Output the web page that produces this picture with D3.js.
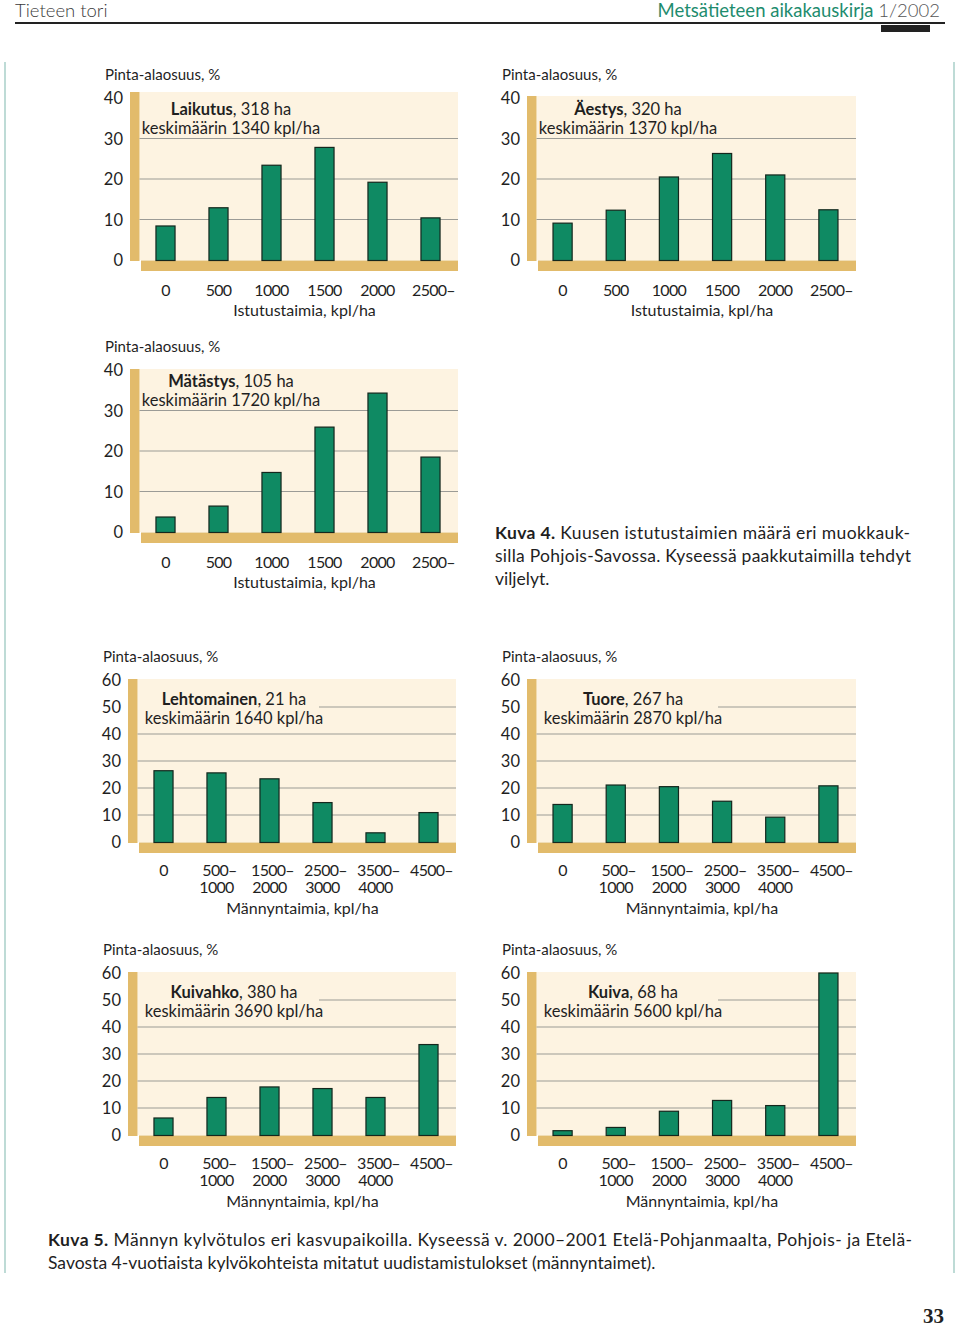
<!DOCTYPE html>
<html><head><meta charset="utf-8">
<script src="https://cdn.jsdelivr.net/npm/d3@7"></script>
<style>
html,body{margin:0;padding:0;background:#fff;}
svg{display:block;}
</style></head>
<body>
<svg id="page" width="960" height="1329"></svg>
<script>
// ---------- DATA ----------
const istutusCategories = ["0", "500", "1000", "1500", "2000", "2500–"];
const istutusTicks = [0, 10, 20, 30, 40];
const laikutus = [8.4, 12.9, 23.4, 27.8, 19.2, 10.4];
const aestys   = [9.1, 12.3, 20.5, 26.3, 21.0, 12.4];
const matastys = [3.7, 6.4, 14.7, 25.9, 34.3, 18.5];

const mannyCategories = [["0"], ["500–", "1000"], ["1500–", "2000"], ["2500–", "3000"], ["3500–", "4000"], ["4500–"]];
const mannyTicks = [0, 10, 20, 30, 40, 50, 60];
const lehtomainen = [26.4, 25.6, 23.4, 14.6, 3.4, 10.9];
const tuore       = [13.9, 21.1, 20.5, 15.1, 9.2, 20.8];
const kuivahko    = [6.3, 13.9, 17.8, 17.2, 13.9, 33.5];
const kuiva       = [1.6, 2.8, 8.8, 12.8, 10.9, 60];

const yTitle = "Pinta-alaosuus, %";
const istutusTitle = "Istutustaimia, kpl/ha";
const mannyTitle = "Männyntaimia, kpl/ha";

// ---------- STYLE ----------
const FONT = "Lato, 'Open Sans', sans-serif";
const C = {
  bg: "#fdf3e1", tan: "#e2bb6b", grid: "#9b9b96", bar: "#0f8a63",
  barStroke: "#14271d", text: "#1f1f1f", teal: "#1e8c6e", border: "#a9cfc8"
};

const svg = d3.select("#page");

// ---------- HEADER ----------
svg.append("text").attr("x", 15).attr("y", 17).attr("font-family", FONT)
  .attr("font-size", 18.5).attr("font-weight", 300).attr("fill", "#3a3a3a").text("Tieteen tori");
const hdr = svg.append("text").attr("x", 940).attr("y", 17).attr("text-anchor", "end")
  .attr("font-family", FONT).attr("font-size", 18.5).attr("font-weight", 400);
hdr.append("tspan").attr("fill", C.teal).text("Metsätieteen aikakauskirja ");
hdr.append("tspan").attr("fill", "#555").attr("font-weight", 300).text("1/2002");
svg.append("line").attr("x1", 15).attr("x2", 945).attr("y1", 23).attr("y2", 23)
  .attr("stroke", "#222").attr("stroke-width", 2);
svg.append("rect").attr("x", 881).attr("y", 25).attr("width", 49).attr("height", 7).attr("fill", "#222");

// page borders
[5, 954].forEach(x => svg.append("line").attr("x1", x).attr("x2", x).attr("y1", 62).attr("y2", 1273)
  .attr("stroke", C.border).attr("stroke-width", 1.5));

// ---------- PANELS ----------
const panels = [
  {name: "Laikutus", area: "318 ha", mean: "1340", values: laikutus, cats: istutusCategories, ticks: istutusTicks, xTitle: istutusTitle, left: 130, right: 458, zero: 260, topPad: 6},
  {name: "Äestys", area: "320 ha", mean: "1370", values: aestys, cats: istutusCategories, ticks: istutusTicks, xTitle: istutusTitle, left: 527, right: 856, zero: 260, topPad: 2},
  {name: "Mätästys", area: "105 ha", mean: "1720", values: matastys, cats: istutusCategories, ticks: istutusTicks, xTitle: istutusTitle, left: 130, right: 458, zero: 532, topPad: 1},
  {name: "Lehtomainen", area: "21 ha", mean: "1640", values: lehtomainen, cats: mannyCategories, ticks: mannyTicks, xTitle: mannyTitle, left: 128, right: 456, zero: 842, topPad: 1},
  {name: "Tuore", area: "267 ha", mean: "2870", values: tuore, cats: mannyCategories, ticks: mannyTicks, xTitle: mannyTitle, left: 527, right: 856, zero: 842, topPad: 1},
  {name: "Kuivahko", area: "380 ha", mean: "3690", values: kuivahko, cats: mannyCategories, ticks: mannyTicks, xTitle: mannyTitle, left: 128, right: 456, zero: 1135, topPad: 1},
  {name: "Kuiva", area: "68 ha", mean: "5600", values: kuiva, cats: mannyCategories, ticks: mannyTicks, xTitle: mannyTitle, left: 527, right: 856, zero: 1135, topPad: 1}
];

function drawPanel(p) {
  const g = svg.append("g");
  const isManny = p.ticks.length > 5;
  const maxV = d3.max(p.ticks);
  const y = d3.scaleLinear().domain([0, maxV]).range([p.zero, p.zero - 162]);
  const barW = 9.5;
  const top = y(maxV) - p.topPad;
  const labels = p.cats.map(c => Array.isArray(c) ? c.join(" ") : c);
  const x = d3.scaleBand().domain(labels).range([p.left + 9, p.right - 1]).paddingInner(0.64).paddingOuter(0.32);

  // background
  g.append("rect").attr("x", p.left + barW).attr("y", top).attr("width", p.right - p.left - barW)
    .attr("height", p.zero - top).attr("fill", C.bg);
  // vertical tan bar
  g.append("rect").attr("x", p.left).attr("y", top).attr("width", barW).attr("height", p.zero - top + 1).attr("fill", C.tan);
  // bottom tan bar
  g.append("rect").attr("x", p.left + barW + 1.5).attr("y", p.zero + 0.5).attr("width", p.right - p.left - barW - 1.5)
    .attr("height", 10.5).attr("fill", C.tan);

  // gridlines
  p.ticks.filter(t => t > 0 && t < maxV).forEach(t => {
    if (!isManny && t >= 40) return;
    const x1 = (isManny && t === 50) ? p.left + 191 : p.left + barW;
    g.append("line").attr("x1", x1).attr("x2", p.right).attr("y1", y(t)).attr("y2", y(t))
      .attr("stroke", C.grid).attr("stroke-width", 1.1);
  });

  // y tick labels
  g.selectAll(".yt").data(p.ticks).join("text")
    .attr("x", p.left - 7).attr("y", d => y(d) + 6).attr("text-anchor", "end")
    .attr("font-family", FONT).attr("font-size", 16.5).attr("fill", C.text).text(d => d);

  // y title
  g.append("text").attr("x", p.left - 25).attr("y", p.zero - 180).attr("font-family", FONT)
    .attr("font-size", 15).attr("fill", C.text).text(yTitle);

  // bars
  g.selectAll(".bar").data(p.values).join("rect")
    .attr("x", (d, i) => x(labels[i])).attr("width", x.bandwidth())
    .attr("y", d => y(d)).attr("height", d => p.zero + 0.5 - y(d))
    .attr("fill", C.bar).attr("stroke", C.barStroke).attr("stroke-width", 1.2);

  // panel title
  const cx = p.left + (isManny ? 106 : 101);
  const l1 = isManny ? p.zero - 137 : p.zero - 145;
  const t1 = g.append("text").attr("x", cx).attr("y", l1).attr("text-anchor", "middle")
    .attr("font-family", FONT).attr("font-size", 16.5).attr("fill", C.text);
  t1.append("tspan").attr("font-weight", 700).text(p.name);
  t1.append("tspan").text(", " + p.area);
  g.append("text").attr("x", cx).attr("y", l1 + 19).attr("text-anchor", "middle")
    .attr("font-family", FONT).attr("font-size", 16.5).attr("fill", C.text)
    .text("keskimäärin " + p.mean + " kpl/ha");

  // x tick labels
  p.cats.forEach((c, i) => {
    const lines = Array.isArray(c) ? c : [c];
    const cxb = x(labels[i]) + x.bandwidth() / 2 + (lines[0].endsWith("–") ? 3 : 0);
    lines.forEach((ln, j) => {
      g.append("text").attr("x", cxb - (j > 0 ? 3 : 0)).attr("y", p.zero + (isManny ? 34 : 36) + j * 17)
        .attr("text-anchor", "middle").attr("font-family", FONT).attr("font-size", 16)
        .attr("letter-spacing", -0.7).attr("fill", C.text).text(ln);
    });
  });
  // x title
  g.append("text").attr("x", (p.left + 9 + p.right) / 2 + 6).attr("y", p.zero + (isManny ? 72 : 56))
    .attr("text-anchor", "middle").attr("font-family", FONT).attr("font-size", 16)
    .attr("fill", C.text).text(p.xTitle);
}
panels.forEach(drawPanel);

// ---------- CAPTIONS ----------
function captionLine(x, yb, parts, width) {
  const t = svg.append("text").attr("x", x).attr("y", yb).attr("font-family", FONT)
    .attr("font-size", 17.5).attr("fill", C.text);
  parts.forEach(pt => t.append("tspan").attr("font-weight", pt.b ? 700 : 400).text(pt.t));
  if (width) t.attr("textLength", width).attr("lengthAdjust", "spacing");
  return t;
}
captionLine(495, 539, [{t: "Kuva 4.", b: true}, {t: " Kuusen istutustaimien määrä eri muokkauk-"}], 415);
captionLine(495, 562, [{t: "silla Pohjois-Savossa. Kyseessä paakkutaimilla tehdyt"}], 416);
captionLine(495, 585, [{t: "viljelyt."}]);
captionLine(48, 1246, [{t: "Kuva 5.", b: true}, {t: " Männyn kylvötulos eri kasvupaikoilla. Kyseessä v. 2000–2001 Etelä-Pohjanmaalta, Pohjois- ja Etelä-"}], 864);
captionLine(48, 1269, [{t: "Savosta 4-vuotiaista kylvökohteista mitatut uudistamistulokset (männyntaimet)."}]);

svg.append("text").attr("x", 944).attr("y", 1323).attr("text-anchor", "end")
  .attr("font-family", "'Liberation Serif', 'DejaVu Serif', serif").attr("font-weight", 700)
  .attr("font-size", 21).attr("fill", "#222").text("33");
</script>
</body></html>
